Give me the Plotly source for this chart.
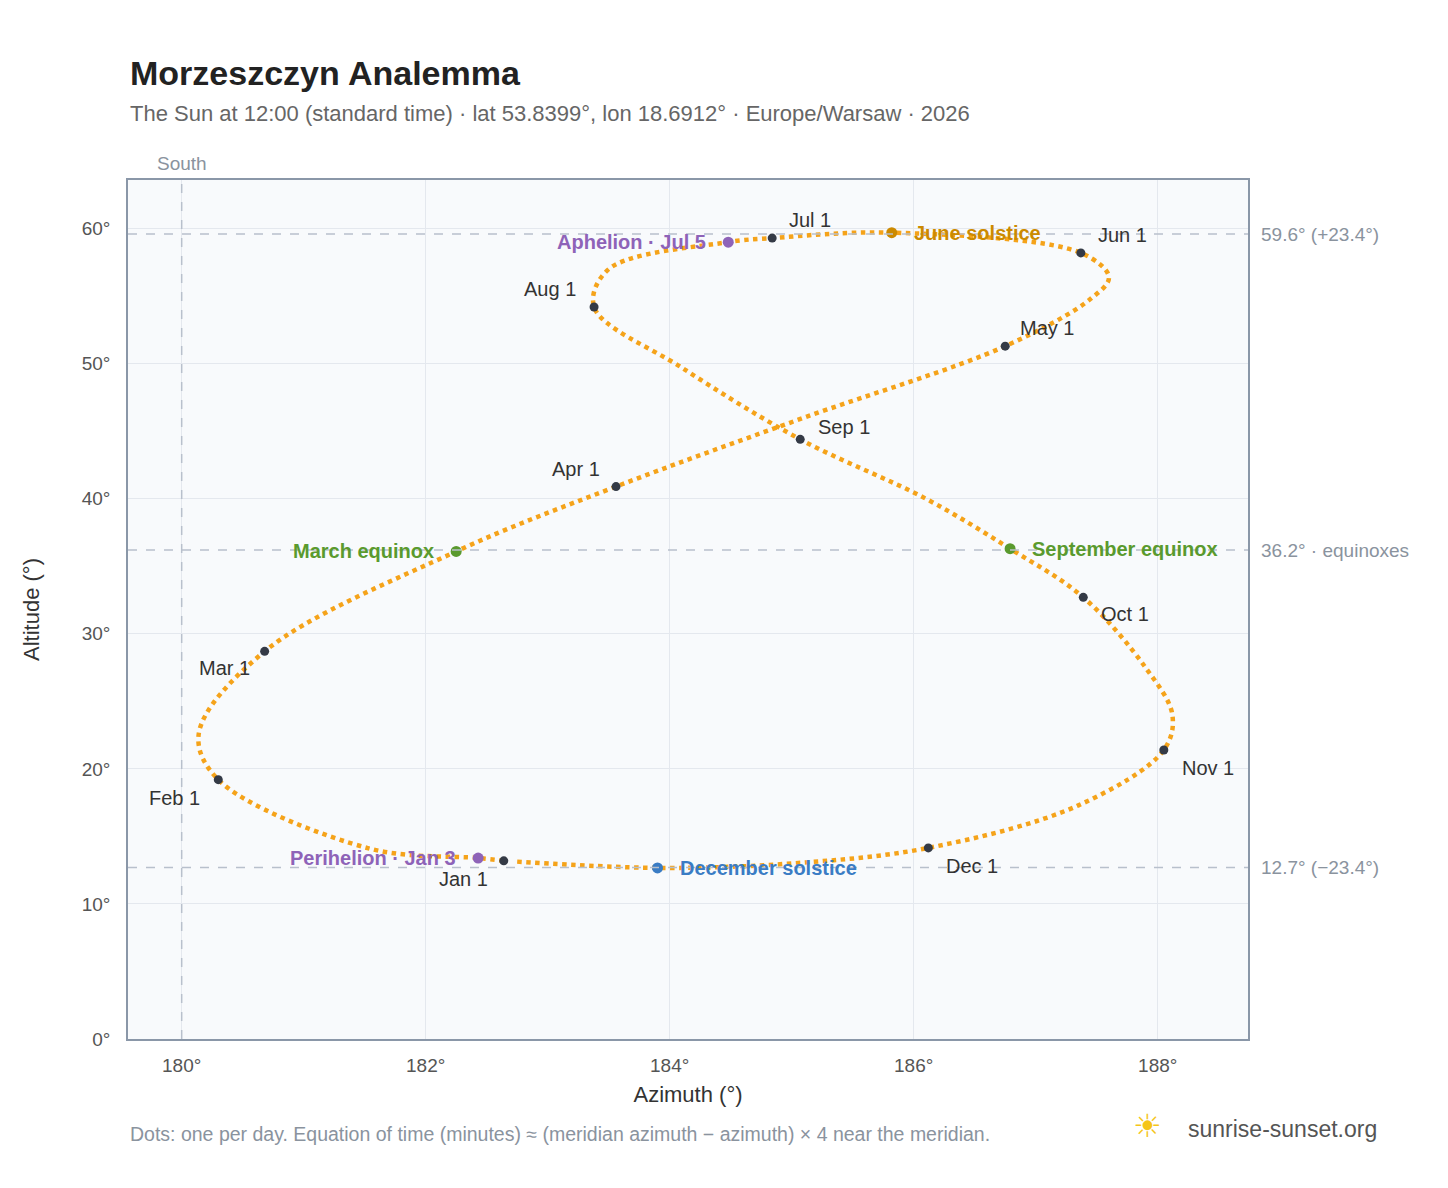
import plotly.graph_objects as go

# Curve anchor points (date, azimuth, altitude)
curve_dates = ["Jan 1","Jan 3","Jan 15","Feb 1","Feb 12","Mar 1","Mar 20","Apr 1","Apr 15","May 1","May 15","May 22","Jun 1","Jun 21","Jul 1","Jul 5","Jul 20","Aug 1","Aug 15","Sep 1","Sep 15","Sep 22","Oct 1","Oct 15","Oct 25","Nov 1","Nov 15","Dec 1","Dec 15","Dec 21","Dec 31"]
curve_az = [182.64,182.43,181.54,180.30,180.14,180.68,182.25,183.56,185.10,186.75,187.45,187.60,187.37,185.82,184.84,184.48,183.50,183.38,184.10,185.07,186.10,186.79,187.39,187.90,188.12,188.05,187.35,186.12,185.00,183.90,182.72]
curve_alt = [13.19,13.40,14.10,19.20,22.60,28.70,36.10,40.90,46.00,51.30,54.80,56.40,58.20,59.70,59.30,59.00,57.00,54.20,49.70,44.40,40.00,36.30,32.70,27.50,24.00,21.40,17.30,14.15,13.00,12.67,13.15]

months = ["Jan 1","Feb 1","Mar 1","Apr 1","May 1","Jun 1","Jul 1","Aug 1","Sep 1","Oct 1","Nov 1","Dec 1"]
month_az = [182.64,180.30,180.68,183.56,186.75,187.37,184.84,183.38,185.07,187.39,188.05,186.12]
month_alt = [13.19,19.20,28.70,40.90,51.30,58.20,59.30,54.20,44.40,32.70,21.40,14.15]
month_shift = [(-40,-18),(-44,-18),(-40,-17),(-40,18),(42,18),(42,18),(38,18),(-44,18),(44,12),(42,-17),(44,-18),(44,-18)]

events = ["Perihelion · Jan 3","March equinox","Aphelion · Jul 5","June solstice","September equinox","December solstice"]
event_az = [182.43,182.25,184.48,185.82,186.79,183.90]
event_alt = [13.40,36.10,59.00,59.70,36.30,12.67]
event_col = ["#8e63b8","#5a9a2e","#8e63b8","#cc8a00","#5a9a2e","#3a7cc4"]
event_anchor = ["right","right","right","left","left","left"]

ref_alt = [59.6, 36.2, 12.7]
ref_text = ["59.6° (+23.4°)","36.2° · equinoxes","12.7° (−23.4°)"]

fig = go.Figure()
fig.add_trace(go.Scatter(x=curve_az, y=curve_alt, mode="lines",
    line=dict(color="#f5a31a", width=4.5, dash="dot", shape="spline", smoothing=1.0),
    hoverinfo="skip", showlegend=False))
fig.add_trace(go.Scatter(x=month_az, y=month_alt, mode="markers",
    marker=dict(color="#343a46", size=9), showlegend=False))
fig.add_trace(go.Scatter(x=event_az, y=event_alt, mode="markers",
    marker=dict(color=event_col, size=11), showlegend=False))

for t, x, y, (dx, dy) in zip(months, month_az, month_alt, month_shift):
    fig.add_annotation(x=x, y=y, text=t, showarrow=False, xshift=dx, yshift=dy,
                       font=dict(size=20, color="#333"))
for t, x, y, c, a in zip(events, event_az, event_alt, event_col, event_anchor):
    fig.add_annotation(x=x, y=y, text="<b>"+t+"</b>", showarrow=False, xanchor=a,
                       xshift=(-20 if a == "right" else 20), font=dict(size=20, color=c))
for y, t in zip(ref_alt, ref_text):
    fig.add_hline(y=y, line=dict(color="#b8c0cc", width=1.5, dash="dash"))
    fig.add_annotation(xref="paper", x=1.01, y=y, text=t, showarrow=False, xanchor="left",
                       font=dict(size=19, color="#8a939e"))
fig.add_vline(x=180, line=dict(color="#b8c0cc", width=1.5, dash="dash"))
fig.add_annotation(x=180, yref="paper", y=1.0, text="South", showarrow=False, yanchor="bottom",
                   yshift=4, font=dict(size=19, color="#8a939e"))

fig.add_annotation(xref="paper", yref="paper", x=0, y=1.1, xanchor="left", yanchor="bottom",
    text="<b>Morzeszczyn Analemma</b>", showarrow=False, font=dict(size=34, color="#222"))
fig.add_annotation(xref="paper", yref="paper", x=0, y=1.06, xanchor="left", yanchor="bottom",
    text="The Sun at 12:00 (standard time) · lat 53.8399°, lon 18.6912° · Europe/Warsaw · 2026",
    showarrow=False, font=dict(size=22, color="#666"))
fig.add_annotation(xref="paper", yref="paper", x=0, y=-0.095, xanchor="left", yanchor="top",
    text="Dots: one per day. Equation of time (minutes) ≈ (meridian azimuth − azimuth) × 4 near the meridian.",
    showarrow=False, font=dict(size=19.5, color="#8a939e"))
fig.add_annotation(xref="paper", yref="paper", x=1.117, y=-0.087, xanchor="right", yanchor="top",
    text="sunrise-sunset.org", showarrow=False, font=dict(size=23, color="#555"))
fig.add_annotation(xref="paper", yref="paper", x=0.91, y=-0.078, xanchor="center", yanchor="top",
    text="☀", showarrow=False, font=dict(size=32, color="#f5c518"))

fig.update_layout(
    width=1448, height=1188, margin=dict(l=120, r=208, t=172, b=157),
    paper_bgcolor="white", plot_bgcolor="#f8fafc",
    font=dict(family="Liberation Sans, Arial, sans-serif"),
    xaxis=dict(range=[179.56, 188.74], tickvals=[180,182,184,186,188],
               ticktext=["180°","182°","184°","186°","188°"], gridcolor="#e4e8ee",
               zeroline=False, showline=True, linecolor="#8a97a8", mirror=True, linewidth=1.5,
               title=dict(text="Azimuth (°)", font=dict(size=22, color="#333"), standoff=12),
               tickfont=dict(size=19, color="#555"), ticks="", ticklabelstandoff=8),
    yaxis=dict(range=[0, 63.6], tickvals=[0,10,20,30,40,50,60],
               ticktext=["0°","10°","20°","30°","40°","50°","60°"], gridcolor="#e4e8ee",
               zeroline=False, showline=True, linecolor="#8a97a8", mirror=True, linewidth=1.5,
               title=dict(text="Altitude (°)", font=dict(size=22, color="#333"), standoff=36),
               tickfont=dict(size=19, color="#555"), ticks="", ticklabelstandoff=12),
)
fig.write_html("out.html")
